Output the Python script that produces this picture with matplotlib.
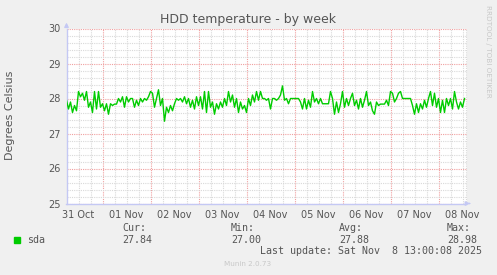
import matplotlib
matplotlib.use("Agg")
import matplotlib.pyplot as plt
import numpy as np
import pandas as pd

# hourly samples starting 31 Oct 06:00
start = "2025-10-31 06:00"
temps = [
    27.95, 27.70, 27.90, 27.60, 27.80, 27.65, 28.20, 28.05, 28.15, 27.95,
    28.20, 27.75, 27.90, 27.60, 28.20, 27.70, 28.20, 27.75,
    27.85, 27.65, 27.85, 27.55, 27.85, 27.80, 27.84, 27.84, 28.00, 27.90,
    28.05, 27.75, 28.05, 27.90, 28.00, 28.00, 27.75, 27.95, 27.80, 28.00,
    27.90, 28.00, 27.95, 28.05,
    28.20, 28.15, 27.75, 28.00, 28.25, 27.80, 28.00, 27.35, 27.75, 27.60,
    27.80, 27.65, 27.85, 28.00, 27.95, 28.00, 27.90, 28.05, 27.85, 28.00,
    27.75, 27.95, 27.70, 28.05,
    27.80, 28.05, 27.70, 28.20, 27.60, 28.20, 27.75, 27.90, 27.55, 27.85,
    27.70, 27.90, 27.75, 28.00, 27.80, 28.20, 27.90, 28.10, 27.75, 28.00,
    27.60, 27.90, 27.70, 27.80,
    27.60, 28.00, 27.80, 28.10, 27.90, 28.20, 27.95, 28.20, 28.00, 28.00,
    27.95, 28.00, 27.70, 28.00, 28.00, 27.95, 28.00, 28.10, 28.36, 27.95,
    28.00, 27.85, 28.00, 28.00,
    28.00, 28.00, 28.00, 27.90, 27.70, 28.00, 27.70, 27.95, 27.75, 28.20,
    27.90, 28.00, 27.85, 28.00, 27.85, 27.85, 27.85, 27.85, 28.20, 28.00,
    27.55, 27.90, 27.60, 27.85,
    28.20, 27.75, 28.00, 27.80, 28.00, 28.15, 27.80, 27.95, 27.70, 28.00,
    27.75, 27.95, 28.20, 27.80, 27.90, 27.65, 27.55, 27.90, 27.80, 27.84,
    27.84, 27.84, 27.95, 27.80,
    28.20, 28.15, 27.90, 28.00, 28.15, 28.20, 28.00, 28.00, 28.00, 28.00,
    28.00, 27.80, 27.55, 27.85, 27.60, 27.85, 27.70, 27.95, 27.75, 28.00,
    28.20, 27.80, 28.15, 27.75,
    28.00, 27.60, 27.95, 27.60, 28.00, 27.80, 28.00, 27.70, 28.20, 27.90,
    27.70, 27.90, 27.75, 28.00,
]
y_ticks = [25, 26, 27, 28, 29, 30]
legend_name = "sda"
stats = {"Cur:": "27.84", "Min:": "27.00", "Avg:": "27.88", "Max:": "28.98"}
last_update = "Last update: Sat Nov  8 13:00:08 2025"

times = pd.date_range(start, periods=len(temps), freq="h")
t0 = times[0]
t_end = t0 + pd.Timedelta(hours=200)

bg = "#f0f0f0"
txt = "#555555"
axis_col = "#c4c8f4"
minor_col = "#d9d9d9"
major_col = "#f0a0a0"

W, H = 497, 275
fig = plt.figure(figsize=(W / 100, H / 100), dpi=100, facecolor=bg)
# offset by half a pixel so the 1px grid lines land on pixel centres
ax = fig.add_axes([66.5 / W, (H - 203.5) / H, 400 / W, 175 / H])
ax.set_facecolor("white")

ax.plot(times, temps, color="#00cc00", lw=1.0, zorder=3)

ax.set_xlim(t0, t_end)
ax.set_ylim(25, 30)

# day grid (midnights) and 6-hour minor grid with labels at noon
midnights = pd.date_range("2025-11-01", "2025-11-08", freq="D")
six = pd.date_range(t0, t_end, freq="6h")
six = [t for t in six if t.hour != 0]
minor_labels = []
for t in six:
    if t.hour == 12:
        minor_labels.append(t.strftime("%d %b"))
    else:
        minor_labels.append("")
ax.set_xticks(midnights, [""] * len(midnights))
ax.set_xticks(six, minor_labels, minor=True)

ax.set_yticks(y_ticks, [str(v) for v in y_ticks])
ax.set_yticks(np.arange(25, 30.01, 0.2), minor=True)

ax.grid(True, which="major", color=major_col, lw=0.8, ls=(0, (1, 1)), zorder=1)
ax.grid(True, which="minor", color=minor_col, lw=0.8, ls=(0, (1, 1)), zorder=0)
ax.axvline(t_end, color=minor_col, lw=0.8, ls=(0, (1, 1)), zorder=0,
           clip_on=False)

ax.tick_params(which="both", length=0, colors=txt, labelsize=7, pad=4)
ax.tick_params(axis="x", which="minor", pad=5)

for s in ["top", "right"]:
    ax.spines[s].set_visible(False)
for s in ["left", "bottom"]:
    ax.spines[s].set_color(axis_col)
    ax.spines[s].set_linewidth(1.0)

# axis arrows
ax.annotate("", xy=(0, 1.05), xytext=(0, 1.0), xycoords="axes fraction",
            arrowprops=dict(arrowstyle="-|>", color=axis_col, lw=1.0,
                            mutation_scale=6), annotation_clip=False)
ax.annotate("", xy=(1.016, 0), xytext=(1.0, 0), xycoords="axes fraction",
            arrowprops=dict(arrowstyle="-|>", color=axis_col, lw=1.0,
                            mutation_scale=6), annotation_clip=False)

fig.text(248 / W, 1 - 19 / H, "HDD temperature - by week", ha="center",
         va="center", fontsize=9, color=txt)
fig.text(10 / W, 1 - 115 / H, "Degrees Celsius", rotation=90, ha="center",
         va="center", fontsize=8, color=txt)
fig.text(488 / W, 1 - 5 / H, "RRDTOOL / TOBI OETIKER", rotation=270,
         ha="center", va="top", fontsize=5.2, color="#c8c8c8")

# legend block
fig.patches.append(plt.Rectangle((14 / W, 1 - 243 / H), 6 / W, 6 / H,
                                 transform=fig.transFigure, color="#00cc00"))
mono = "DejaVu Sans Mono"
fig.text(27 / W, 1 - 240 / H, legend_name, ha="left", va="center",
         fontsize=7.2, family=mono, color=txt)
stat_x = [122, 231, 339, 447]
for x, (k, v) in zip(stat_x, stats.items()):
    fig.text(x / W, 1 - 228 / H, k, ha="left", va="center", fontsize=7.2,
             family=mono, color=txt)
    fig.text(x / W, 1 - 240 / H, v, ha="left", va="center", fontsize=7.2,
             family=mono, color=txt)
fig.text(482 / W, 1 - 251 / H, last_update, ha="right", va="center",
         fontsize=7.2, family=mono, color=txt)
fig.text(248 / W, 1 - 264 / H, "Munin 2.0.73", ha="center", va="center",
         fontsize=5.2, color="#c8c8c8")

fig.savefig("out.png", dpi=100, facecolor=bg)
